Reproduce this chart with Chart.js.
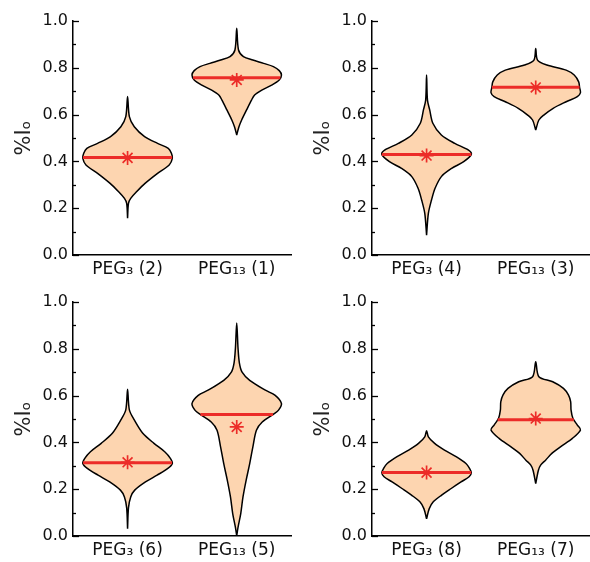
<!DOCTYPE html>
<html>
<head>
<meta charset="utf-8">
<script src="https://cdn.jsdelivr.net/npm/chart.js@4.4.1/dist/chart.umd.min.js"></script>
<style>
  body { margin: 0; width: 590px; height: 562px; overflow: hidden; position: relative; background: #fff; }
  canvas { position: absolute; }
</style>
</head>
<body>
<canvas id="c1" width="300" height="281" style="left:0;top:0"></canvas>
<canvas id="c2" width="300" height="281" style="left:299px;top:0"></canvas>
<canvas id="c3" width="300" height="281" style="left:0;top:281px"></canvas>
<canvas id="c4" width="300" height="281" style="left:299px;top:281px"></canvas>
<script>
// tick labels of each panel
var labels1 = ['PEG₃ (2)', 'PEG₁₃ (1)'];
var labels2 = ['PEG₃ (4)', 'PEG₁₃ (3)'];
var labels3 = ['PEG₃ (6)', 'PEG₁₃ (5)'];
var labels4 = ['PEG₃ (8)', 'PEG₁₃ (7)'];

// violin profiles: y levels (%Io) and relative density (1 = widest)
var peg3_2_y = [0.157, 0.221, 0.242, 0.27, 0.306, 0.349, 0.385, 0.413, 0.435, 0.456, 0.477, 0.506, 0.548, 0.591, 0.677];
var peg3_2_d = [0, 0.02, 0.07, 0.2, 0.39, 0.67, 0.93, 1.0, 0.98, 0.91, 0.67, 0.38, 0.15, 0.04, 0];
var peg13_1_y = [0.513, 0.548, 0.577, 0.62, 0.662, 0.684, 0.705, 0.726, 0.748, 0.769, 0.788, 0.805, 0.819, 0.833, 0.848, 0.876, 0.969];
var peg13_1_d = [0, 0.05, 0.11, 0.22, 0.33, 0.4, 0.56, 0.78, 0.95, 1.0, 0.95, 0.82, 0.6, 0.36, 0.15, 0.04, 0];

var peg3_4_y = [0.085, 0.178, 0.235, 0.285, 0.335, 0.37, 0.399, 0.43, 0.449, 0.477, 0.513, 0.563, 0.62, 0.662, 0.769];
var peg3_4_d = [0, 0.04, 0.11, 0.19, 0.33, 0.56, 0.83, 1.0, 0.93, 0.63, 0.33, 0.14, 0.07, 0.02, 0];
var peg13_3_y = [0.534, 0.577, 0.598, 0.627, 0.655, 0.677, 0.694, 0.716, 0.74, 0.769, 0.79, 0.812, 0.833, 0.883];
var peg13_3_d = [0, 0.07, 0.18, 0.39, 0.68, 0.93, 1.0, 0.98, 0.96, 0.86, 0.68, 0.25, 0.04, 0];

var peg3_6_y = [0.031, 0.12, 0.167, 0.196, 0.231, 0.26, 0.289, 0.31, 0.331, 0.36, 0.396, 0.439, 0.496, 0.539, 0.627];
var peg3_6_d = [0, 0.02, 0.07, 0.16, 0.4, 0.66, 0.9, 1.0, 0.96, 0.83, 0.59, 0.34, 0.15, 0.04, 0];
var peg13_5_y = [0, 0.038, 0.096, 0.167, 0.238, 0.309, 0.38, 0.452, 0.487, 0.519, 0.537, 0.566, 0.601, 0.623, 0.665, 0.70, 0.739, 0.80, 0.91];
var peg13_5_d = [0, 0.03, 0.09, 0.14, 0.21, 0.29, 0.36, 0.44, 0.57, 0.81, 0.93, 1.0, 0.86, 0.64, 0.29, 0.12, 0.06, 0.03, 0];

var peg3_8_y = [0.074, 0.117, 0.146, 0.174, 0.203, 0.231, 0.253, 0.27, 0.289, 0.31, 0.339, 0.367, 0.396, 0.424, 0.45];
var peg3_8_d = [0, 0.06, 0.15, 0.33, 0.55, 0.77, 0.95, 1.0, 0.96, 0.88, 0.66, 0.4, 0.18, 0.04, 0];
var peg13_7_y = [0.224, 0.281, 0.303, 0.324, 0.353, 0.382, 0.417, 0.453, 0.474, 0.503, 0.538, 0.574, 0.603, 0.631, 0.659, 0.681, 0.745];
var peg13_7_d = [0, 0.06, 0.11, 0.22, 0.36, 0.56, 0.82, 1.0, 0.93, 0.83, 0.79, 0.78, 0.73, 0.62, 0.38, 0.07, 0];

// medians and means per panel
var medians1 = [0.417, 0.758], means1 = [0.415, 0.748];
var medians2 = [0.43, 0.717],  means2 = [0.425, 0.716];
var medians3 = [0.313, 0.519], means3 = [0.315, 0.466];
var medians4 = [0.271, 0.497], means4 = [0.271, 0.502];

var FILL = 'rgb(253, 213, 176)';
var RED = 'rgb(236, 44, 40)';
var HALF = 0.41; // widest half-width in category units

// linear interpolation of the profile at level y
function densityAt(ys, ds, y) {
  for (var i = 1; i < ys.length; i++) {
    if (y <= ys[i]) {
      var t = (y - ys[i - 1]) / (ys[i] - ys[i - 1]);
      return ds[i - 1] + t * (ds[i] - ds[i - 1]);
    }
  }
  return 0;
}

// inward tick marks on the y axis, long every 0.2, short every 0.1
var innerTicks = {
  id: 'innerTicks',
  afterDraw: function(chart) {
    var ys = chart.scales.y, ctx = chart.ctx, left = chart.chartArea.left;
    ctx.save();
    ctx.strokeStyle = '#000';
    ctx.lineWidth = 1.3;
    ys.ticks.forEach(function(t) {
      var py = Math.round(ys.getPixelForValue(t.value)) + 0.5;
      var major = Math.round(t.value * 10) % 2 === 0;
      ctx.beginPath();
      ctx.moveTo(left, py);
      ctx.lineTo(left + (major ? 6 : 3), py);
      ctx.stroke();
    });
    ctx.restore();
  }
};

function addViolinPanel(id, labels, profiles, medians, means) {
  var datasets = [];
  profiles.forEach(function(p, k) {
    var c = k + 0.5;
    var ys = p[0], ds = p[1];
    var pts = [];
    for (var i = 0; i < ys.length; i++) pts.push({x: c + ds[i] * HALF, y: ys[i]});
    for (var j = ys.length - 2; j >= 1; j--) pts.push({x: c - ds[j] * HALF, y: ys[j]});
    pts.push({x: c, y: ys[0]});
    datasets.push({
      data: pts, showLine: true, fill: 'shape', tension: 0.3,
      backgroundColor: FILL, borderColor: '#000', borderWidth: 1.5,
      pointRadius: 0, order: 3
    });
    var w = densityAt(ys, ds, medians[k]) * HALF;
    datasets.push({
      data: [{x: c - w, y: medians[k]}, {x: c + w, y: medians[k]}],
      showLine: true, borderColor: RED, borderWidth: 3, pointRadius: 0, order: 2
    });
    datasets.push({
      data: [{x: c, y: means[k]}],
      pointStyle: 'star', pointRadius: 7, borderColor: RED, borderWidth: 1.7, order: 1
    });
  });

  new Chart(document.getElementById(id), {
    type: 'scatter',
    data: {datasets: datasets},
    plugins: [innerTicks],
    options: {
      responsive: false,
      animation: false,
      layout: {padding: {top: 21, left: 0, right: 0, bottom: 0}},
      plugins: {legend: {display: false}, tooltip: {enabled: false}},
      scales: {
        x: {
          type: 'linear', min: 0, max: 2,
          afterBuildTicks: function(s) { s.ticks = [{value: 0.5}, {value: 1.5}]; },
          afterFit: function(s) { s.height = 26; },
          ticks: {
            color: '#111', padding: 4,
            font: {family: 'DejaVu Sans', size: 17},
            callback: function(v) { return labels[v > 1 ? 1 : 0]; }
          },
          grid: {display: true, drawOnChartArea: false, drawTicks: false},
          border: {color: '#000', width: 1.5}
        },
        y: {
          min: 0, max: 1,
          afterFit: function(s) { s.width = 73; },
          ticks: {
            stepSize: 0.1, color: '#111', padding: 5,
            font: {family: 'DejaVu Sans', size: 16},
            callback: function(v) { return Math.round(v * 10) % 2 === 0 ? v.toFixed(1) : ''; }
          },
          grid: {display: true, drawOnChartArea: false, drawTicks: false},
          border: {color: '#000', width: 1.5},
          title: {
            display: true, text: '%Iₒ', color: '#222',
            font: {family: 'DejaVu Sans', size: 21},
            padding: {top: 12, bottom: 0}
          }
        }
      }
    }
  });
}

addViolinPanel('c1', labels1, [[peg3_2_y, peg3_2_d], [peg13_1_y, peg13_1_d]], medians1, means1);
addViolinPanel('c2', labels2, [[peg3_4_y, peg3_4_d], [peg13_3_y, peg13_3_d]], medians2, means2);
addViolinPanel('c3', labels3, [[peg3_6_y, peg3_6_d], [peg13_5_y, peg13_5_d]], medians3, means3);
addViolinPanel('c4', labels4, [[peg3_8_y, peg3_8_d], [peg13_7_y, peg13_7_d]], medians4, means4);
</script>
</body>
</html>
